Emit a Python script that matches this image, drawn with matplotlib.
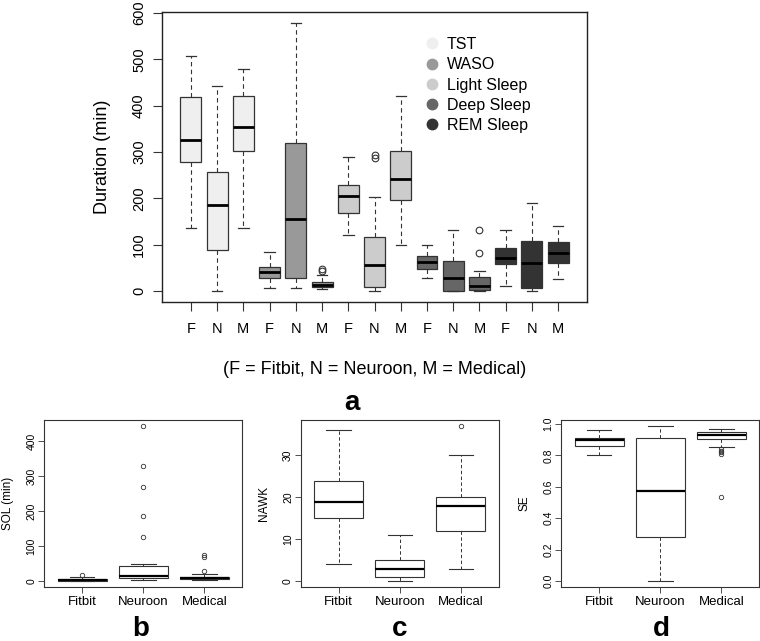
import matplotlib
matplotlib.use('Agg')
import matplotlib.pyplot as plt
from matplotlib.lines import Line2D

plt.rcParams['font.family'] = ['Liberation Sans', 'DejaVu Sans']

# ---- panel a: durations (min), order F N M inside each group ----
groups = ['TST', 'WASO', 'Light Sleep', 'Deep Sleep', 'REM Sleep']
group_colors = ['#efefef', '#999999', '#cccccc', '#666666', '#333333']
dev_short = ['F', 'N', 'M']

dur_whislo = [137, 0, 137, 7, 7, 4, 121, 0, 100, 29, 0, 0, 11, 0, 26]
dur_q1 = [278, 88, 302, 29, 28, 9, 169, 10, 197, 49, 0, 3, 58, 6, 60]
dur_med = [327, 187, 355, 42, 156, 14, 206, 56, 243, 62, 29, 11, 72, 60, 82]
dur_q3 = [418, 258, 420, 53, 319, 19, 229, 118, 303, 75, 66, 31, 93, 109, 107]
dur_whishi = [508, 443, 480, 84, 579, 34, 289, 203, 420, 100, 133, 43, 131, 191, 141]
dur_fliers = [[], [], [], [], [], [44, 49], [], [287, 293], [], [], [], [83, 133], [], [], []]

# ---- panels b, c, d ----
dev_names = ['Fitbit', 'Neuroon', 'Medical']

sol_whislo = [0, 3, 3]
sol_q1 = [1, 8, 6]
sol_med = [3, 15, 9.5]
sol_q3 = [5, 43, 12]
sol_whishi = [10.6, 49, 19]
sol_fliers = [[16], [125, 187, 268, 327, 442], [29, 69, 74]]

nawk_whislo = [4, 0, 3]
nawk_q1 = [15, 1, 12]
nawk_med = [19, 3, 18]
nawk_q3 = [24, 5, 20]
nawk_whishi = [36, 11, 30]
nawk_fliers = [[], [], [37]]

se_whislo = [0.80, 0.0, 0.852]
se_q1 = [0.858, 0.278, 0.903]
se_med = [0.894, 0.576, 0.932]
se_q3 = [0.907, 0.907, 0.945]
se_whishi = [0.962, 0.985, 0.966]
se_fliers = [[], [], [0.534, 0.81, 0.82, 0.83, 0.841]]


def make_stats(lo, q1, med, q3, hi, fl):
    return [dict(whislo=a, q1=b, med=c, q3=d, whishi=e, fliers=f)
            for a, b, c, d, e, f in zip(lo, q1, med, q3, hi, fl)]


def r_ylim(stats):
    # R extends the data range by 4% on both sides
    vals = []
    for s in stats:
        vals += [s['whislo'], s['whishi']] + list(s['fliers'])
    lo, hi = min(vals), max(vals)
    pad = 0.04 * (hi - lo)
    return lo - pad, hi + pad


fig = plt.figure(figsize=(7.6, 6.41), dpi=100)

##########主图 a##########
ax = fig.add_axes([0.2132, 0.5289, 0.5592, 0.4524])
stats = make_stats(dur_whislo, dur_q1, dur_med, dur_q3, dur_whishi, dur_fliers)
n = len(stats)
pos = list(range(1, n + 1))
bp = ax.bxp(stats, positions=pos, widths=0.8, patch_artist=True,
            boxprops=dict(edgecolor='#333333', linewidth=0.9),
            medianprops=dict(color='black', linewidth=2.0),
            whiskerprops=dict(color='#333333', linewidth=0.8, linestyle=(0, (4, 3))),
            capprops=dict(color='#333333', linewidth=0.9),
            flierprops=dict(marker='o', markerfacecolor='none', markeredgecolor='#333333',
                            markersize=4.8, markeredgewidth=0.8))
for i, patch in enumerate(bp['boxes']):
    patch.set_facecolor(group_colors[i // 3])

ax.set_xlim(0.5 - 0.04 * n, n + 0.5 + 0.04 * n)
ax.set_ylim(r_ylim(stats))
ax.set_xticks(pos)
ax.set_xticklabels(dev_short * len(groups))
ax.set_yticks([0, 100, 200, 300, 400, 500, 600])
ax.tick_params(axis='both', length=6.5, width=0.8, labelsize=10.5, color='#333333')
ax.tick_params(axis='x', pad=8)
ax.tick_params(axis='y', pad=5)
plt.setp(ax.get_yticklabels(), rotation=90, va='center')
for sp in ax.spines.values():
    sp.set_linewidth(1.0)
    sp.set_color('#222222')
ax.set_ylabel('Duration (min)', fontsize=13, va='center')
ax.yaxis.set_label_coords(-0.139, 0.5)
ax.set_xlabel('(F = Fitbit, N = Neuroon, M = Medical)', fontsize=13, va='center')
ax.xaxis.set_label_coords(0.5, -0.2345)

handles = [Line2D([], [], marker='o', linestyle='', color=c, markersize=7.5) for c in group_colors]
ax.legend(handles, groups, loc='upper left', bbox_to_anchor=(0.5575, 0.9423),
          bbox_transform=fig.transFigure, frameon=False, fontsize=11.5,
          borderpad=0, handlelength=1.0, handletextpad=0.45, labelspacing=0.33,
          borderaxespad=0)

fig.text(352 / 760, 1 - 410 / 641, 'a', fontsize=20, fontweight='bold',
         ha='center', va='baseline')

##########小图 b c d##########
small = [
    ('SOL (min)', make_stats(sol_whislo, sol_q1, sol_med, sol_q3, sol_whishi, sol_fliers),
     [0, 100, 200, 300, 400], None, 0.0583, 141, 'b'),
    ('NAWK', make_stats(nawk_whislo, nawk_q1, nawk_med, nawk_q3, nawk_whishi, nawk_fliers),
     [0, 10, 20, 30], None, 0.3957, 399.7, 'c'),
    ('SE', make_stats(se_whislo, se_q1, se_med, se_q3, se_whishi, se_fliers),
     [0.0, 0.2, 0.4, 0.6, 0.8, 1.0], '%.1f', 0.7386, 661, 'd'),
]
for ylab, st, yt, fmt, left, lx, letter in small:
    axs = fig.add_axes([left, 0.0838, 0.2605, 0.2610])
    axs.bxp(st, positions=[1, 2, 3], widths=0.8, patch_artist=True,
            boxprops=dict(facecolor='white', edgecolor='#333333', linewidth=0.8),
            medianprops=dict(color='black', linewidth=1.6),
            whiskerprops=dict(color='#333333', linewidth=0.7, linestyle=(0, (3.5, 2.5))),
            capprops=dict(color='#333333', linewidth=0.8),
            flierprops=dict(marker='o', markerfacecolor='none', markeredgecolor='#333333',
                            markersize=3.2, markeredgewidth=0.6))
    axs.set_xlim(0.5 - 0.12, 3.5 + 0.12)
    axs.set_ylim(r_ylim(st))
    axs.set_xticks([1, 2, 3])
    axs.set_xticklabels(dev_names, fontsize=9.5)
    axs.set_yticks(yt)
    if fmt:
        axs.set_yticklabels([fmt % v for v in yt])
    axs.tick_params(axis='both', length=4, width=0.6, color='#333333')
    axs.tick_params(axis='y', labelsize=7.5, pad=1.5)
    axs.tick_params(axis='x', pad=2.5)
    plt.setp(axs.get_yticklabels(), rotation=90, va='center')
    for sp in axs.spines.values():
        sp.set_linewidth(0.8)
        sp.set_color('#333333')
    axs.set_ylabel(ylab, fontsize=8.5, va='center')
    axs.yaxis.set_label_coords(-0.185, 0.5)
    fig.text(lx / 760, 1 - 636 / 641, letter, fontsize=20, fontweight='bold',
             ha='center', va='baseline')

fig.savefig('out.png', dpi=100)
